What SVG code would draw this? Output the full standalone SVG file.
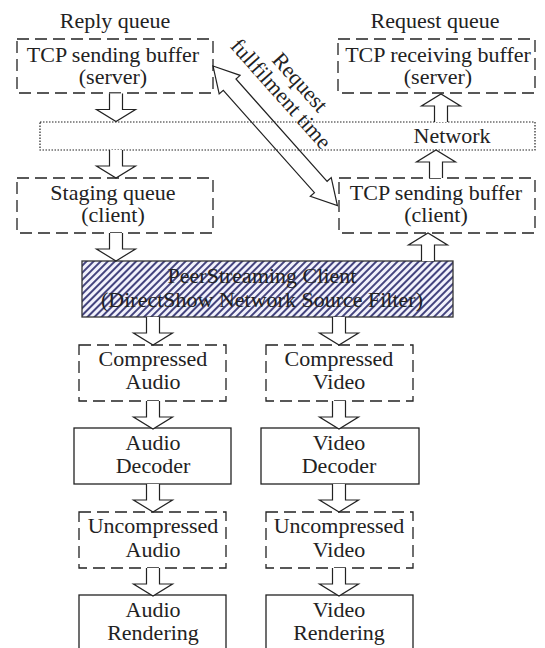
<svg xmlns="http://www.w3.org/2000/svg" xmlns:xlink="http://www.w3.org/1999/xlink" width="545" height="648" viewBox="0 0 545 648">
<style>
text{font-family:"Liberation Serif","Times New Roman",serif;font-size:22px;fill:#222;text-anchor:middle}
.dash{fill:none;stroke:#222;stroke-width:1.3;stroke-dasharray:12,6}
.solid{fill:#fff;stroke:#222;stroke-width:1.3}
.dot{fill:none;stroke:#222;stroke-width:1.2;stroke-dasharray:1.5,1.5}
.blk{fill:#fff;stroke:#222;stroke-width:1.2;stroke-linejoin:miter}
.dbl{fill:none;stroke:#222;stroke-width:1.2}
</style>
<defs>
<pattern id="hatch" width="5" height="5" patternUnits="userSpaceOnUse" patternTransform="rotate(45)">
<rect width="5" height="5" fill="#f2f2fc"/>
<line x1="1" y1="0" x2="1" y2="5" stroke="#3b3b78" stroke-width="1.9"/>
</pattern>
<path id="dn" d="M-6.5,0 V16 H-19.5 L0,28 L19.5,16 H6.5 V0"/>
</defs>

<text x="115" y="28">Reply queue</text>
<text x="435" y="28">Request queue</text>

<g id="tcp-send-server">
<rect class="dash" x="17" y="39" width="196" height="54"/>
<text x="113" y="62">TCP sending buffer</text>
<text x="113" y="84">(server)</text>
</g>
<g id="tcp-recv-server">
<rect class="dash" x="338" y="39" width="197" height="54"/>
<text x="438" y="62">TCP receiving buffer</text>
<text x="438" y="84">(server)</text>
</g>
<g id="network">
<rect class="dot" x="40" y="122" width="495" height="28"/>
<text x="452" y="143">Network</text>
</g>
<g id="staging">
<rect class="dash" x="17" y="178" width="196" height="55"/>
<text x="113" y="200">Staging queue</text>
<text x="113" y="222">(client)</text>
</g>
<g id="tcp-send-client">
<rect class="dash" x="339" y="178" width="196" height="55"/>
<text x="436" y="200">TCP sending buffer</text>
<text x="436" y="222">(client)</text>
</g>
<g id="peerstreaming">
<rect x="82" y="261" width="371" height="56" fill="url(#hatch)" stroke="#333" stroke-width="1.3"/>
<text x="262" y="283">PeerStreaming Client</text>
<text x="262" y="307">(DirectShow Network Source Filter)</text>
</g>
<g id="comp-audio">
<rect class="dash" x="79" y="345" width="147" height="56"/>
<text x="153" y="366">Compressed</text>
<text x="153" y="389">Audio</text>
</g>
<g id="comp-video">
<rect class="dash" x="266" y="345" width="147" height="56"/>
<text x="339" y="366">Compressed</text>
<text x="339" y="389">Video</text>
</g>
<g id="audio-decoder">
<rect class="solid" x="74" y="428" width="157" height="56"/>
<text x="153" y="450">Audio</text>
<text x="153" y="473">Decoder</text>
</g>
<g id="video-decoder">
<rect class="solid" x="261" y="428" width="158" height="56"/>
<text x="339" y="450">Video</text>
<text x="339" y="473">Decoder</text>
</g>
<g id="uncomp-audio">
<rect class="dash" x="79" y="512" width="147" height="56"/>
<text x="153" y="533">Uncompressed</text>
<text x="153" y="557">Audio</text>
</g>
<g id="uncomp-video">
<rect class="dash" x="266" y="512" width="147" height="56"/>
<text x="339" y="533">Uncompressed</text>
<text x="339" y="557">Video</text>
</g>
<g id="audio-rendering">
<rect class="solid" x="79" y="595" width="147" height="58"/>
<text x="153" y="617">Audio</text>
<text x="153" y="640">Rendering</text>
</g>
<g id="video-rendering">
<rect class="solid" x="266" y="595" width="147" height="58"/>
<text x="339" y="617">Video</text>
<text x="339" y="640">Rendering</text>
</g>

<g id="connectors">
<use xlink:href="#dn" class="blk" transform="translate(116,93.5)"/>
<use xlink:href="#dn" class="blk" transform="translate(116,150)"/>
<use xlink:href="#dn" class="blk" transform="translate(116,233)"/>
<use xlink:href="#dn" class="blk" transform="translate(441,122) scale(1,-1)"/>
<use xlink:href="#dn" class="blk" transform="translate(436,178) scale(1,-1)"/>
<use xlink:href="#dn" class="blk" transform="translate(428,261) scale(1,-1)"/>
<use xlink:href="#dn" class="blk" transform="translate(153,317)"/>
<use xlink:href="#dn" class="blk" transform="translate(339,317)"/>
<use xlink:href="#dn" class="blk" transform="translate(153,401)"/>
<use xlink:href="#dn" class="blk" transform="translate(339,401)"/>
<use xlink:href="#dn" class="blk" transform="translate(153,484)"/>
<use xlink:href="#dn" class="blk" transform="translate(339,484)"/>
<use xlink:href="#dn" class="blk" transform="translate(153,568)"/>
<use xlink:href="#dn" class="blk" transform="translate(339,568)"/>
<g transform="translate(213,66) rotate(48.3)">
<path class="dbl" d="M0,0 L25,-14 L25,-8.5 L162,-8.5 L162,-14 L187,0 L162,14 L162,8.5 L25,8.5 L25,14 Z"/>
</g>
</g>
<g transform="translate(213,66) rotate(48.3)">
<text x="70" y="-47">Request</text>
<text x="66" y="-25">fullfilment time</text>
</g>
</svg>
